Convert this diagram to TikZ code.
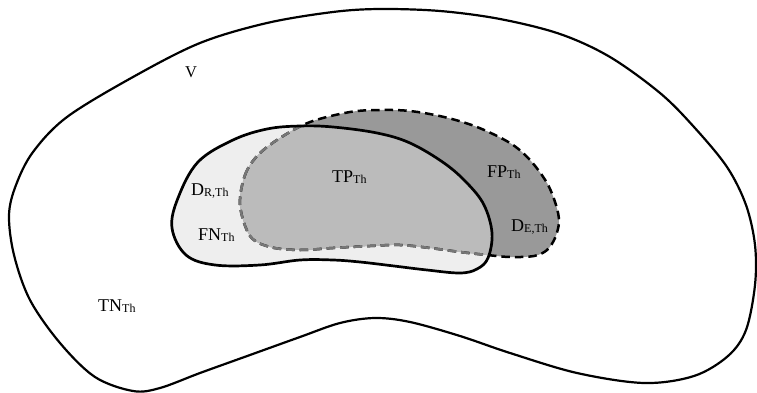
\documentclass[tikz,border=0pt]{standalone}
\usepackage{fontspec}
\setmainfont{Liberation Serif}
\newcommand\lbl[2]{#1\raisebox{-1.5pt}{\fontsize{12}{12}\selectfont #2}}
\definecolor{rfill}{HTML}{EEEEEE}
\definecolor{efill}{HTML}{999999}
\definecolor{ofill}{HTML}{BBBBBB}
\definecolor{dgray}{HTML}{777777}
\tikzset{
  outerline/.style={line width=2.2pt, line join=round},
  solidline/.style={line width=2.7pt, line join=round},
  dashline/.style={line width=2.5pt, dash pattern=on 8.5pt off 5pt},
  lab/.style={inner sep=0pt, anchor=base west, font=\fontsize{18}{20}\selectfont},
}
\begin{document}
\begin{tikzpicture}[x=1pt,y=-1pt]
\useasboundingbox (0,0) rectangle (757,393);
% outer set V
\draw[outerline] plot[smooth cycle, tension=0.55] coordinates {
(133,391) (95,377) (60,343) (30,300) (14,255) (9,215) (16,185) (33,152) (67,117) (133,77) (200,43) (267,23) (333,12) (380,9) (440,11) (500,19) (560,34) (610,57) (660,93) (694,127) (727,167) (746,205) (755,245) (755,285) (746,330) (728,356) (694,376) (644,383) (577,373) (510,353) (460,336) (410,322) (375,318) (340,323) (300,337) (250,355) (200,373) (160,388)};
% paths
\path[save path=\pdr] plot[smooth cycle, tension=0.6] coordinates {
(172,228) (178,198) (198,162) (233,140) (267,129) (300,126) (333,127) (377,133) (410,143) (444,163) (467,183) (484,205) (492,233) (488,258) (477,269) (460,273) (427,270) (394,266) (360,262) (333,260) (300,260) (260,265) (215,265) (186,255)};
\path[save path=\pde] plot[smooth cycle, tension=0.55] coordinates {
(240,205) (245,175) (258,155) (280,138) (310,122) (350,112) (380,110) (410,111) (444,117) (477,127) (510,143) (530,160) (547,183) (556,205) (559,222) (555,238) (547,250) (534,256) (510,257) (487,255) (460,252) (430,248) (400,245) (370,246) (333,248) (300,250) (270,247) (250,236)};
\fill[rfill, use path=\pdr];
\fill[efill, use path=\pde];
\begin{scope}
\clip[use path=\pdr];
\fill[ofill, use path=\pde];
\end{scope}
\draw[dashline, use path=\pde];
\begin{scope}
\clip[use path=\pdr];
\draw[dashline, dgray, use path=\pde];
\end{scope}
\draw[solidline, use path=\pdr];
% labels
\node[lab, font=\fontsize{16.5}{18}\selectfont] (v) at (185,78) {V};
\node[lab] (dr) at (191,195) {\lbl{D}{R,Th}};
\node[lab] (fn) at (198,240) {\lbl{FN}{Th}};
\node[lab] (tp) at (332,182) {\lbl{TP}{Th}};
\node[lab] (fp) at (487,177) {\lbl{FP}{Th}};
\node[lab] (de) at (511,231) {\lbl{D}{E,Th}};
\node[lab] (tn) at (98,311) {\lbl{TN}{Th}};
\end{tikzpicture}
\end{document}
